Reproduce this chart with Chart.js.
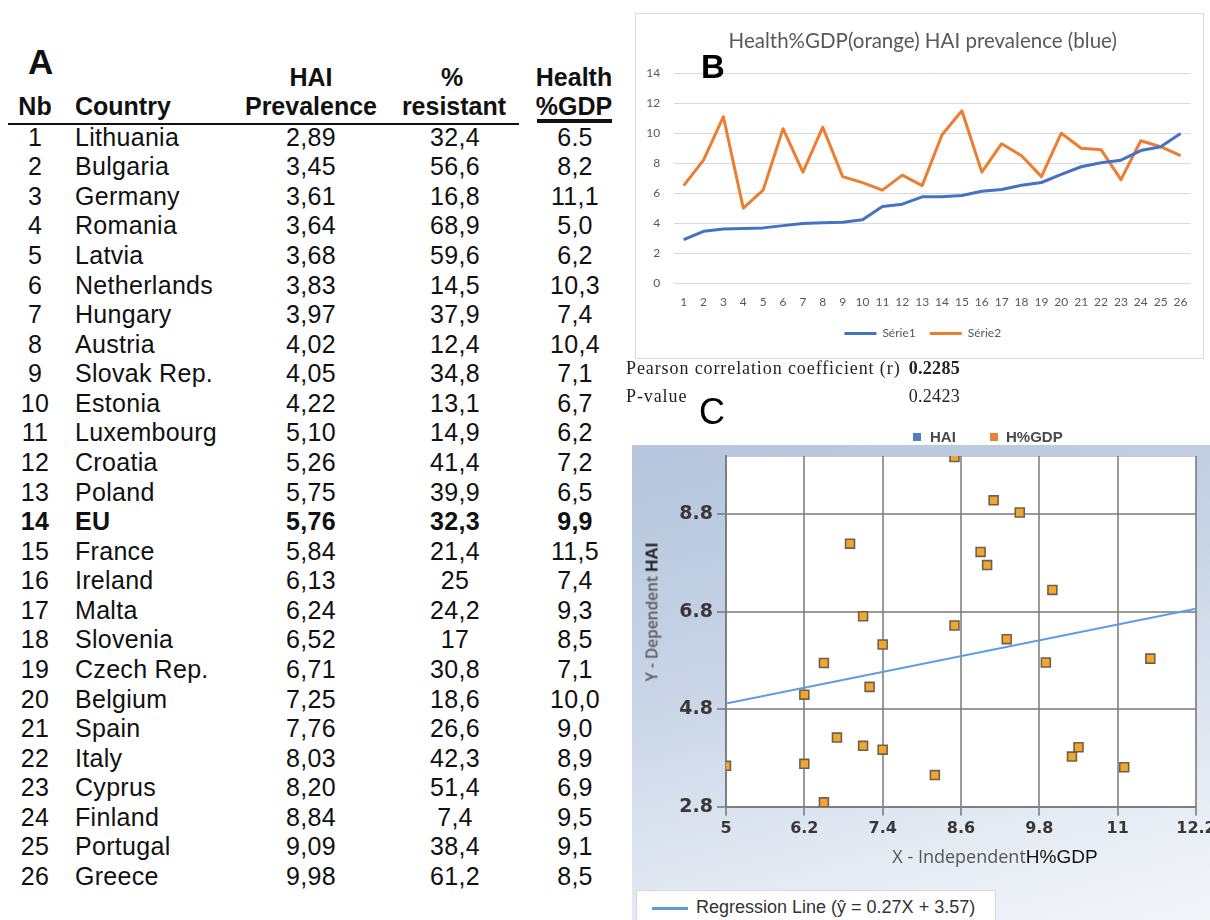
<!DOCTYPE html>
<html>
<head>
<meta charset="utf-8">
<script src="https://cdn.jsdelivr.net/npm/chart.js@4.4.1/dist/chart.umd.min.js"></script>
<style>
  html, body { margin: 0; padding: 0; background: #fff; }
  body { width: 1210px; height: 920px; position: relative; overflow: hidden;
         font-family: "Liberation Sans", Arial, sans-serif; color: #111; }
  .abs { position: absolute; white-space: nowrap; }
  .cell { position: absolute; white-space: nowrap; font-size: 25px; letter-spacing: 0.3px;
          height: 30px; line-height: 30px; }
  .hdr { font-weight: bold; letter-spacing: 0; }
  .ctr { width: 200px; text-align: center; }
  .panelLetter { font-weight: bold; color: #000; }
  .serif { font-family: 'Liberation Serif', 'Times New Roman', serif; font-size: 18px;
           line-height: 22px; color: #222; letter-spacing: 0.9px; }
  #frameB { position: absolute; left: 635px; top: 13px; width: 569px; height: 346px;
            border: 1px solid #d9d9d9; box-sizing: border-box; background: #fff; }
  #chartB { position: absolute; left: 0; top: 0; }
  #panelC { position: absolute; left: 632px; top: 445px; width: 578px; height: 475px;
            background: linear-gradient(165deg, #b5c5dd 0%, #c8d4e6 40%, #e4eaf3 75%, #f3f5f9 100%); }
  #chartC { position: absolute; left: 0; top: 0; }
  #regBox { position: absolute; left: 636px; top: 890px; width: 360px; height: 40px;
            background: #fff; border: 1px solid #d8d8d8; box-sizing: border-box; }
</style>
</head>
<body>

<!-- panel A: table -->
<div id="tableA"></div>

<!-- panel B: line chart -->
<div id="frameB"><canvas id="chartB" width="567" height="344"></canvas></div>
<div class="abs panelLetter" style="left:701px; top:47px; font-size:33px; line-height:40px;">B</div>

<!-- statistics under panel B -->
<div class="abs serif" style="left:626px; top:357px;">Pearson correlation coefficient (r)</div>
<div class="abs serif" style="left:860px; width:100px; text-align:right; top:357px; font-weight:bold; letter-spacing:0.3px;" id="rValue"></div>
<div class="abs serif" style="left:626px; top:385px;">P-value</div>
<div class="abs serif" style="left:860px; width:100px; text-align:right; top:385px; letter-spacing:0.3px;" id="pValue"></div>

<!-- panel C: scatter with regression line -->
<div class="abs" style="left:699px; top:392px; font-size:36px; line-height:40px; color:#000;">C</div>
<div class="abs" style="left:913px; top:433px; width:8px; height:8px; background:#4f81bd;"></div>
<div class="abs" style="left:930px; top:428px; font-size:15px; line-height:18px; font-weight:bold; color:#4a4a4a;">HAI</div>
<div class="abs" style="left:990px; top:433px; width:8px; height:8px; background:#e8833a;"></div>
<div class="abs" style="left:1006px; top:428px; font-size:15px; line-height:18px; font-weight:bold; color:#4a4a4a;">H%GDP</div>

<div id="panelC"><canvas id="chartC" width="578" height="445"></canvas></div>

<div class="abs" style="left:652px; top:612px; transform:translate(-50%,-50%) rotate(-90deg); line-height:20px;">
  <span style="font-family:'Open Sans',sans-serif; font-size:15.5px; font-weight:600; color:#5a5a5a;">Y - Dependent </span><span style="font-size:17px; font-weight:bold; color:#222;">HAI</span>
</div>
<div class="abs" style="left:995px; top:857px; transform:translate(-50%,-50%); line-height:22px;">
  <span style="font-family:'Open Sans',sans-serif; font-size:18px; color:#555;">X - Independent</span><span style="font-size:19px; color:#111;">H%GDP</span>
</div>

<div id="regBox">
  <div class="abs" style="left:15px; top:16px; width:36px; height:3px; background:#5b9ae0;"></div>
  <div class="abs" id="regLabel" style="left:59px; top:5px; font-size:18px; line-height:22px; color:#333;"></div>
</div>

<script>
// Country data, in the order the table lists them (sorted by HAI prevalence)
const countries = ["Lithuania", "Bulgaria", "Germany", "Romania", "Latvia", "Netherlands",
  "Hungary", "Austria", "Slovak Rep.", "Estonia", "Luxembourg", "Croatia", "Poland", "EU",
  "France", "Ireland", "Malta", "Slovenia", "Czech Rep.", "Belgium", "Spain", "Italy",
  "Cyprus", "Finland", "Portugal", "Greece"];
const haiText = ["2,89", "3,45", "3,61", "3,64", "3,68", "3,83", "3,97", "4,02", "4,05", "4,22",
  "5,10", "5,26", "5,75", "5,76", "5,84", "6,13", "6,24", "6,52", "6,71", "7,25", "7,76",
  "8,03", "8,20", "8,84", "9,09", "9,98"];
const resistantText = ["32,4", "56,6", "16,8", "68,9", "59,6", "14,5", "37,9", "12,4", "34,8",
  "13,1", "14,9", "41,4", "39,9", "32,3", "21,4", "25", "24,2", "17", "30,8", "18,6", "26,6",
  "42,3", "51,4", "7,4", "38,4", "61,2"];
const gdpText = ["6.5", "8,2", "11,1", "5,0", "6,2", "10,3", "7,4", "10,4", "7,1", "6,7", "6,2",
  "7,2", "6,5", "9,9", "11,5", "7,4", "9,3", "8,5", "7,1", "10,0", "9,0", "8,9", "6,9", "9,5",
  "9,1", "8,5"];
const boldRow = "EU";

// Numeric series used by the charts
const toNum = s => parseFloat(s.replace(",", "."));
const hai = haiText.map(toNum);
const gdp = gdpText.map(toNum);
const rankLabels = countries.map((c, i) => String(i + 1));

// Axis ticks for the scatter plot
const scatterXTicks = [5, 6.2, 7.4, 8.6, 9.8, 11, 12.2];
const scatterYTicks = [2.8, 4.8, 6.8, 8.8];

// Correlation statistics and fitted line
const pearsonR = "0.2285";
const pValue = "0.2423";
const regSlope = 0.27;
const regIntercept = 3.57;

/* ---------- Table A ---------- */
const tbl = document.getElementById("tableA");
function cell(text, x, yc, opts = {}) {
  const d = document.createElement("div");
  d.className = "cell" + (opts.hdr ? " hdr" : "") + (opts.center ? " ctr" : "");
  d.textContent = text;
  d.style.left = (opts.center ? x - 100 : x) + "px";
  d.style.top = (yc - 15) + "px";
  if (opts.bold) d.style.fontWeight = "bold";
  if (opts.size) d.style.fontSize = opts.size + "px";
  tbl.appendChild(d);
  return d;
}
// panel letter
cell("A", 28, 62, { hdr: true, size: 35 });
// header
cell("HAI", 311, 77, { hdr: true, center: true });
cell("%", 452, 77, { hdr: true, center: true });
cell("Health", 574, 77, { hdr: true, center: true });
cell("Nb", 35, 106, { hdr: true, center: true });
cell("Country", 75, 106, { hdr: true });
cell("Prevalence", 311, 106, { hdr: true, center: true });
cell("resistant", 454, 106, { hdr: true, center: true });
cell("%GDP", 574, 106, { hdr: true, center: true });
// header rules
const rule1 = document.createElement("div");
rule1.className = "abs";
Object.assign(rule1.style, { left: "8px", top: "123px", width: "511px", height: "2px", background: "#111" });
tbl.appendChild(rule1);
const rule2 = document.createElement("div");
rule2.className = "abs";
Object.assign(rule2.style, { left: "537px", top: "119px", width: "75px", height: "4px", background: "#111" });
tbl.appendChild(rule2);
// body rows
const firstRowY = 136.7, rowStep = 29.57;
countries.forEach((c, i) => {
  const y = firstRowY + i * rowStep;
  const b = c === boldRow;
  cell(rankLabels[i], 35, y, { center: true, bold: b });
  cell(c, 75, y, { bold: b });
  cell(haiText[i], 311, y, { center: true, bold: b });
  cell(resistantText[i], 455, y, { center: true, bold: b });
  cell(gdpText[i], 575, y, { center: true, bold: b });
});

document.getElementById("rValue").textContent = pearsonR;
document.getElementById("pValue").textContent = pValue;
document.getElementById("regLabel").textContent =
  "Regression Line (\u0177 = " + regSlope + "X + " + regIntercept + ")";

/* ---------- Chart B: the two series by rank ---------- */
// title and legend sit centred on the whole frame rather than on the plot box
const centreOnFrame = {
  id: "centreOnFrame",
  afterLayout(chart, args, opts) {
    [chart.titleBlock, chart.legend].forEach(b => {
      if (b) { b.left += opts.shift; b.right += opts.shift; }
    });
  }
};
const calib = "Lato, 'Open Sans', sans-serif";
new Chart(document.getElementById("chartB"), {
  type: "line",
  data: {
    labels: rankLabels,
    datasets: [
      { label: "Série1", data: hai, borderColor: "#4472C4", backgroundColor: "#4472C4",
        borderWidth: 3, pointRadius: 0, tension: 0, borderJoinStyle: "round" },
      { label: "Série2", data: gdp, borderColor: "#ED7D31", backgroundColor: "#ED7D31",
        borderWidth: 3, pointRadius: 0, tension: 0, borderJoinStyle: "round" }
    ]
  },
  options: {
    responsive: false, animation: false, devicePixelRatio: 1,
    layout: { padding: { left: 0, right: 12.5, top: 0, bottom: 8.5 } },
    plugins: {
      centreOnFrame: { shift: 9.5 },
      title: { display: true, text: "Health%GDP(orange) HAI prevalence (blue)", color: "#595959",
               font: { family: calib, size: 20.5, weight: "normal" }, padding: { top: 15.4, bottom: 19.3 } },
      legend: { position: "bottom",
                labels: { usePointStyle: true, pointStyle: "line", pointStyleWidth: 32,
                          color: "#595959", font: { family: calib, size: 12 }, padding: 14 } },
      tooltip: { enabled: false }
    },
    scales: {
      x: { offset: true, grid: { display: false, drawTicks: false }, border: { display: false },
           ticks: { color: "#595959", font: { family: calib, size: 12 }, padding: 12,
                    maxRotation: 0, autoSkip: false },
           afterFit: a => { a.height = 30.5; } },
      y: { min: 0, max: 14,
           ticks: { stepSize: 2, color: "#595959", font: { family: calib, size: 12 }, padding: 13.5 },
           grid: { color: "#d9d9d9", drawTicks: false, tickLength: 0 }, border: { display: false },
           afterFit: a => { a.width = 37.7; } }
    }
  },
  plugins: [centreOnFrame]
});

/* ---------- Chart C: HAI against health spending ---------- */
const plotFill = {
  id: "plotFill",
  beforeDraw(chart) {
    const { ctx, chartArea: { left, top, width, height } } = chart;
    ctx.save();
    ctx.fillStyle = "#ffffff";
    ctx.fillRect(left, top, width, height);
    ctx.strokeStyle = "#c8c8c8";
    ctx.lineWidth = 1;
    ctx.strokeRect(left, top + 0.5, width, height);
    ctx.restore();
  }
};
const xMin = scatterXTicks[0], xMax = scatterXTicks[scatterXTicks.length - 1];
const regEnds = [xMin, xMax].map(x => ({ x: x, y: regIntercept + regSlope * x }));
const gridGray = "rgba(120,120,120,0.75)";
new Chart(document.getElementById("chartC"), {
  type: "scatter",
  data: {
    datasets: [
      { label: "H%GDP", data: gdp.map((x, i) => ({ x: x, y: hai[i] })),
        pointStyle: "rect", pointRadius: 6.3, backgroundColor: "#f5a62a",
        borderColor: "#6a6152", borderWidth: 1.6 },
      { label: "Regression Line", data: regEnds, showLine: true, pointRadius: 0,
        borderColor: "#5f9be3", borderWidth: 2 }
    ]
  },
  options: {
    responsive: false, animation: false, devicePixelRatio: 1,
    layout: { padding: { left: 0, right: 14, top: 11, bottom: 0 } },
    plugins: { legend: { display: false }, tooltip: { enabled: false } },
    scales: {
      x: { type: "linear", min: xMin, max: xMax,
           afterBuildTicks: a => { a.ticks = scatterXTicks.map(v => ({ value: v })); },
           ticks: { callback: v => String(v), color: "#383838", padding: 4,
                    font: { family: "'DejaVu Sans', sans-serif", size: 16, weight: "bold" } },
           grid: { color: gridGray, lineWidth: 2, tickLength: 9 },
           border: { color: gridGray, width: 2 },
           afterFit: a => { a.height = 83.3; a.paddingLeft = 0; a.paddingRight = 0; } },
      y: { type: "linear", min: scatterYTicks[0], max: 10,
           afterBuildTicks: a => { a.ticks = scatterYTicks.map(v => ({ value: v })); },
           ticks: { callback: v => String(v), color: "#383838", padding: 4,
                    font: { family: "'DejaVu Sans', sans-serif", size: 19, weight: "bold" } },
           grid: { color: gridGray, lineWidth: 2, tickLength: 9 },
           border: { color: gridGray, width: 2 },
           afterFit: a => { a.width = 94; a.paddingTop = 0; a.paddingBottom = 0; } }
    }
  },
  plugins: [plotFill]
});
</script>
</body>
</html>
